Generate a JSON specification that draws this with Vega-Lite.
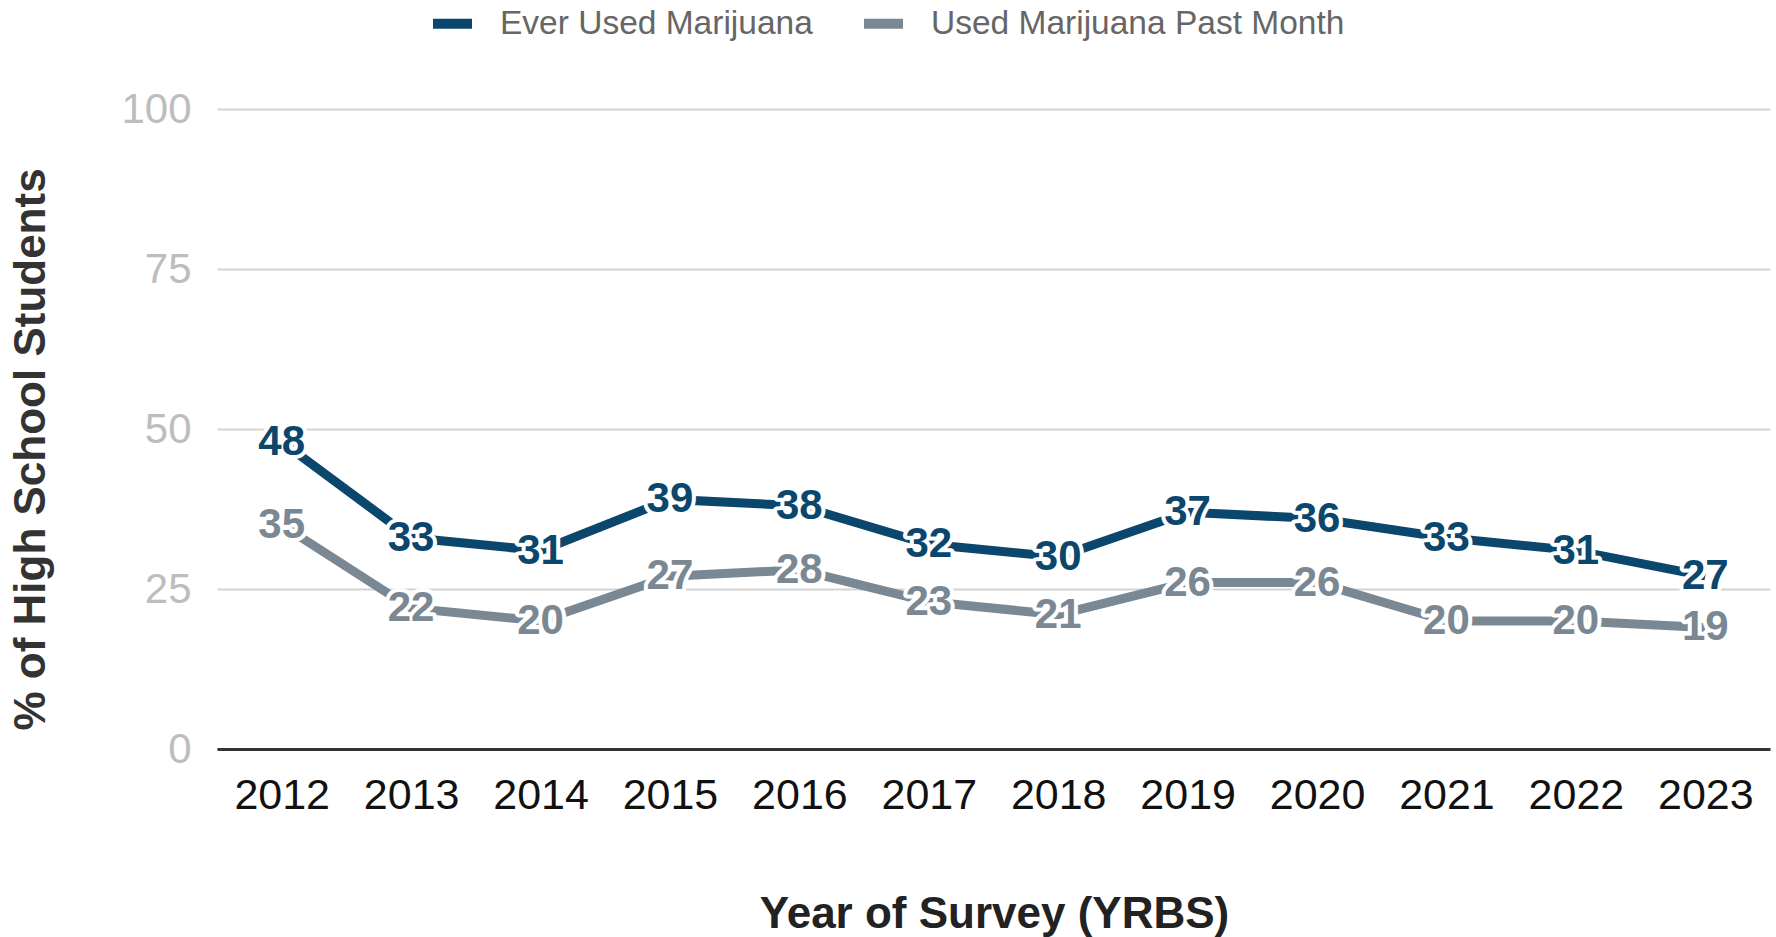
{
  "$schema": "https://vega.github.io/schema/vega-lite/v6.json",
  "width": 1553,
  "height": 640,
  "autosize": {"type": "none"},
  "padding": {"left": 217, "top": 109, "right": 6, "bottom": 188},
  "background": "white",
  "config": {"font": "Liberation Sans", "view": {"stroke": null}},
  "data": {
    "values": [
      {"year": "2012", "series": "Ever Used Marijuana", "value": 48},
      {"year": "2013", "series": "Ever Used Marijuana", "value": 33},
      {"year": "2014", "series": "Ever Used Marijuana", "value": 31},
      {"year": "2015", "series": "Ever Used Marijuana", "value": 39},
      {"year": "2016", "series": "Ever Used Marijuana", "value": 38},
      {"year": "2017", "series": "Ever Used Marijuana", "value": 32},
      {"year": "2018", "series": "Ever Used Marijuana", "value": 30},
      {"year": "2019", "series": "Ever Used Marijuana", "value": 37},
      {"year": "2020", "series": "Ever Used Marijuana", "value": 36},
      {"year": "2021", "series": "Ever Used Marijuana", "value": 33},
      {"year": "2022", "series": "Ever Used Marijuana", "value": 31},
      {"year": "2023", "series": "Ever Used Marijuana", "value": 27},
      {"year": "2012", "series": "Used Marijuana Past Month", "value": 35},
      {"year": "2013", "series": "Used Marijuana Past Month", "value": 22},
      {"year": "2014", "series": "Used Marijuana Past Month", "value": 20},
      {"year": "2015", "series": "Used Marijuana Past Month", "value": 27},
      {"year": "2016", "series": "Used Marijuana Past Month", "value": 28},
      {"year": "2017", "series": "Used Marijuana Past Month", "value": 23},
      {"year": "2018", "series": "Used Marijuana Past Month", "value": 21},
      {"year": "2019", "series": "Used Marijuana Past Month", "value": 26},
      {"year": "2020", "series": "Used Marijuana Past Month", "value": 26},
      {"year": "2021", "series": "Used Marijuana Past Month", "value": 20},
      {"year": "2022", "series": "Used Marijuana Past Month", "value": 20},
      {"year": "2023", "series": "Used Marijuana Past Month", "value": 19}
    ]
  },
  "encoding": {
    "x": {
      "field": "year",
      "type": "ordinal",
      "scale": {"type": "point", "padding": 0.5},
      "axis": {
        "labelAngle": 0,
        "labelFontSize": 43,
        "labelColor": "#111111",
        "labelPadding": 25,
        "ticks": false,
        "grid": false,
        "domainColor": "#333333",
        "domainWidth": 3,
        "title": "Year of Survey (YRBS)",
        "titleFontSize": 44,
        "titleFontWeight": "bold",
        "titleColor": "#222222",
        "titleX": 777,
        "titleY": 178,
        "titleBaseline": "alphabetic",
        "titleAlign": "center"
      }
    },
    "y": {
      "field": "value",
      "type": "quantitative",
      "scale": {"domain": [0, 100]},
      "axis": {
        "values": [0, 25, 50, 75, 100],
        "grid": true,
        "gridColor": "#d3d3d3",
        "gridWidth": 2,
        "domain": false,
        "ticks": false,
        "labelFontSize": 42,
        "labelColor": "#bdbdbd",
        "labelPadding": 26,
        "title": "% of High School Students",
        "titleFontSize": 44,
        "titleFontWeight": "bold",
        "titleColor": "#333333",
        "titleX": -173,
        "titleY": 340,
        "titleAngle": 270,
        "titleAlign": "center",
        "titleBaseline": "alphabetic"
      }
    },
    "color": {
      "field": "series",
      "type": "nominal",
      "scale": {
        "domain": ["Ever Used Marijuana", "Used Marijuana Past Month"],
        "range": ["#0b466d", "#7a8894"]
      },
      "legend": {
        "title": null,
        "orient": "none",
        "direction": "horizontal",
        "legendX": 211,
        "legendY": -110,
        "padding": 0,
        "symbolType": "stroke",
        "symbolSize": 1521,
        "symbolStrokeWidth": 10,
        "labelFontSize": 33.5,
        "labelColor": "#666666",
        "labelOffset": 23,
        "columnPadding": 31,
        "labelLimit": 600
      }
    }
  },
  "layer": [
    {"mark": {"type": "line", "strokeWidth": 9}},
    {
      "mark": {"type": "text", "fontSize": 42, "fontWeight": "bold", "stroke": "white", "strokeWidth": 8, "strokeJoin": "round", "baseline": "middle"},
      "encoding": {"text": {"field": "value"}, "color": {"value": "white"}}
    },
    {
      "mark": {"type": "text", "fontSize": 42, "fontWeight": "bold", "baseline": "middle"},
      "encoding": {"text": {"field": "value"}}
    }
  ]
}
